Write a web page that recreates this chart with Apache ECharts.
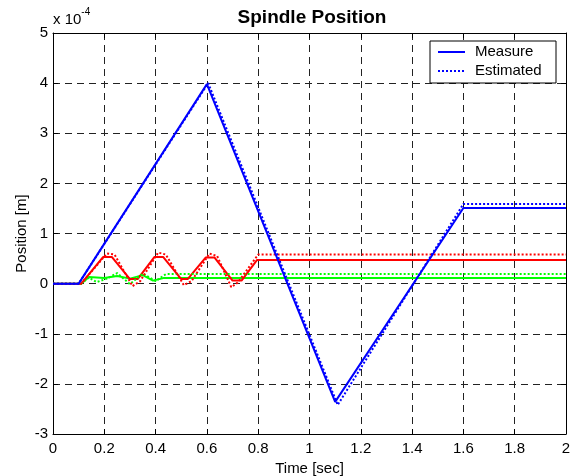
<!DOCTYPE html>
<html>
<head>
<meta charset="utf-8">
<script src="https://cdn.jsdelivr.net/npm/echarts@6/dist/echarts.min.js"></script>
<style>
html,body{margin:0;padding:0;background:#fff;}
#c{width:572px;height:476px;}
</style>
</head>
<body>
<div id="c"></div>
<script>
// Values in units of 1e-4 m, time in seconds
var xTicks = [0, 0.2, 0.4, 0.6, 0.8, 1, 1.2, 1.4, 1.6, 1.8, 2];
var yTicks = [-3, -2, -1, 0, 1, 2, 3, 4, 5];
var legendNames = ['Measure', 'Estimated'];

var blueMeasureT = [0, 0.1, 0.6, 1.1, 1.6, 2];
var blueMeasureY = [0, 0, 3.98, -2.36, 1.51, 1.51];
var blueEstT = [0, 0.1, 0.605, 1.11, 1.6, 2];
var blueEstY = [0, 0, 4.0, -2.42, 1.59, 1.59];

var redMeasureT = [0, 0.11, 0.195, 0.23, 0.3, 0.33, 0.395, 0.43, 0.5, 0.525, 0.595, 0.63, 0.7, 0.735, 0.795, 2];
var redMeasureY = [0, 0, 0.53, 0.53, 0.09, 0.09, 0.53, 0.53, 0.09, 0.09, 0.52, 0.52, 0.06, 0.06, 0.47, 0.47];
var redEstT = [0, 0.11, 0.21, 0.24, 0.31, 0.34, 0.41, 0.44, 0.51, 0.54, 0.61, 0.64, 0.695, 0.72, 0.8, 2];
var redEstY = [0, 0, 0.6, 0.58, -0.05, 0.05, 0.62, 0.58, -0.03, 0.05, 0.6, 0.55, -0.07, 0.02, 0.58, 0.58];

var greenMeasureT = [0, 0.11, 0.14, 0.2, 0.25, 0.3, 0.35, 0.39, 0.43, 2];
var greenMeasureY = [0, 0, 0.13, 0.11, 0.15, 0.1, 0.17, 0.06, 0.11, 0.11];
var greenEstT = [0, 0.11, 0.14, 0.17, 0.21, 0.25, 0.3, 0.35, 0.4, 0.44, 2];
var greenEstY = [0, 0, 0.12, 0.03, 0.1, 0.21, -0.01, 0.2, 0.05, 0.19, 0.19];

function pairs(t, y) { return t.map(function (v, i) { return [v, y[i]]; }); }

var BLUE = '#0000ff', RED = '#ff0000', GREEN = '#00ff00';
var FONT = 'Liberation Sans, Arial, sans-serif';
var FS = 15;

function line(name, t, y, color, dotted, z) {
  return {
    name: name, type: 'line', data: pairs(t, y), showSymbol: false, symbol: 'none',
    animation: false, z: z, silent: true,
    lineStyle: { color: color, width: 2, type: dotted ? [2, 2] : 'solid' },
    itemStyle: { color: color }
  };
}

var chart = echarts.init(document.getElementById('c'), null, { renderer: 'canvas' });
var gridLine = { show: true, lineStyle: { color: '#222', width: 1, type: [7, 5] } };

// legend box drawn as graphic (line samples without markers)
var LX = 430, LY = 41, LW = 126, LH = 42;
var legendGraphic = [
  { type: 'rect', shape: { x: LX, y: LY, width: LW, height: LH }, style: { fill: '#fff', stroke: '#000', lineWidth: 1 }, z: 100 }
];
legendNames.forEach(function (nm, i) {
  var cy = LY + 11 + i * 19;
  legendGraphic.push({ type: 'line', shape: { x1: LX + 8, y1: cy, x2: LX + 35, y2: cy },
    style: { stroke: BLUE, lineWidth: 2, lineDash: i === 1 ? [2, 2] : null }, z: 101 });
  legendGraphic.push({ type: 'text', x: LX + 45, y: cy,
    style: { text: nm, fontFamily: FONT, fontSize: FS, fill: '#000', verticalAlign: 'middle', align: 'left' }, z: 101 });
});

chart.setOption({
  backgroundColor: '#fff',
  animation: false,
  title: {
    text: 'Spindle Position', left: 307, textAlign: 'center', top: 3,
    textStyle: { fontFamily: FONT, fontSize: 19, fontWeight: 'bold', color: '#000' }
  },
  grid: { left: 53, right: 6, top: 33, bottom: 42, containLabel: false, outerBoundsMode: 'none' },
  xAxis: [{
    type: 'value', min: 0, max: 2, interval: 0.2,
    name: 'Time [sec]', nameLocation: 'middle', nameGap: 27, nameMoveOverlap: false,
    nameTextStyle: { fontFamily: FONT, fontSize: FS, color: '#000' },
    axisLine: { show: true, onZero: false, lineStyle: { color: '#000', width: 1 } },
    axisTick: { show: true, inside: true, length: 5, lineStyle: { color: '#000' } },
    axisLabel: { fontFamily: FONT, fontSize: FS, color: '#000', margin: 7,
      formatter: function (v) { return String(+v.toFixed(1)); } },
    splitLine: gridLine
  }, {
    type: 'value', min: 0, max: 2, interval: 0.2, position: 'top',
    axisLine: { show: true, onZero: false, lineStyle: { color: '#000', width: 1 } },
    axisTick: { show: true, inside: true, length: 5, lineStyle: { color: '#000' } },
    axisLabel: { show: false }, splitLine: { show: false }
  }],
  yAxis: [{
    type: 'value', min: -3, max: 5, interval: 1,
    name: 'Position [m]', nameLocation: 'middle', nameGap: 24, nameMoveOverlap: false,
    nameTextStyle: { fontFamily: FONT, fontSize: FS, color: '#000' },
    axisLine: { show: true, onZero: false, lineStyle: { color: '#000', width: 1 } },
    axisTick: { show: true, inside: true, length: 5, lineStyle: { color: '#000' } },
    axisLabel: { fontFamily: FONT, fontSize: FS, color: '#000', margin: 5 },
    splitLine: gridLine
  }, {
    type: 'value', min: -3, max: 5, interval: 1, position: 'right',
    axisLine: { show: true, onZero: false, lineStyle: { color: '#000', width: 1 } },
    axisTick: { show: true, inside: true, length: 5, lineStyle: { color: '#000' } },
    axisLabel: { show: false }, splitLine: { show: false }
  }],
  graphic: [{
    type: 'text', left: 53, top: 7,
    style: {
      text: '{a|x 10}{b|-4}',
      rich: {
        a: { fontFamily: FONT, fontSize: FS, color: '#000', padding: [8, 0, 0, 0] },
        b: { fontFamily: FONT, fontSize: 10, color: '#000', padding: [0, 0, 7, 0] }
      }
    }
  }].concat(legendGraphic),
  series: [
    line('green-m', greenMeasureT, greenMeasureY, GREEN, false, 2),
    line('red-m', redMeasureT, redMeasureY, RED, false, 3),
    line('green-e', greenEstT, greenEstY, GREEN, true, 4),
    line('red-e', redEstT, redEstY, RED, true, 5),
    line('Measure', blueMeasureT, blueMeasureY, BLUE, false, 6),
    line('Estimated', blueEstT, blueEstY, BLUE, true, 7)
  ]
});
</script>
</body>
</html>
